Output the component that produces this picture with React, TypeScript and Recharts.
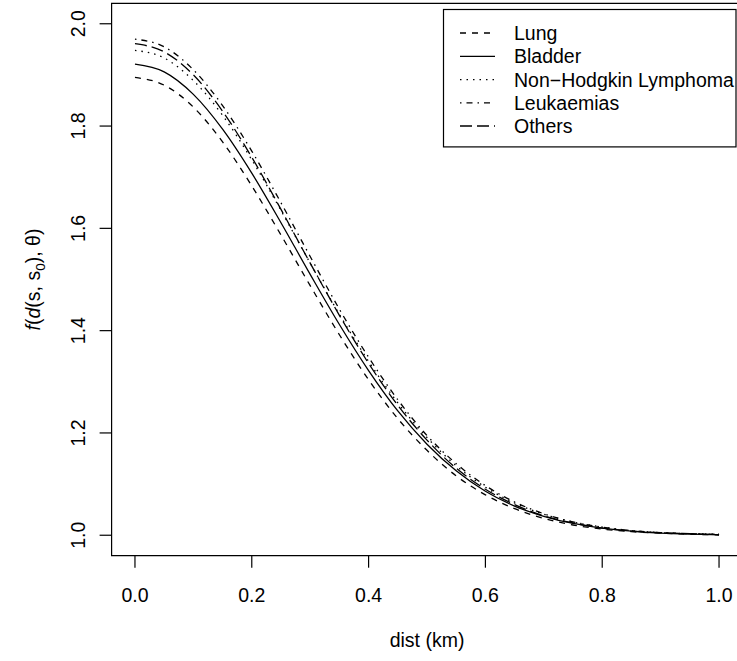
import React from 'react';
import { LineChart, Line, XAxis, YAxis, ReferenceArea, Legend } from 'recharts';

const dist = [0, 0.05, 0.1, 0.15, 0.2, 0.25, 0.3, 0.35, 0.4, 0.45, 0.5, 0.55, 0.6, 0.65, 0.7, 0.75, 0.8, 0.85, 0.9, 0.95, 1.0];
const lung = [1.895, 1.880, 1.837, 1.769, 1.683, 1.587, 1.488, 1.392, 1.304, 1.228, 1.166, 1.116, 1.079, 1.052, 1.033, 1.020, 1.012, 1.007, 1.004, 1.002, 1.001];
const bladder = [1.921, 1.906, 1.862, 1.794, 1.708, 1.611, 1.510, 1.412, 1.322, 1.243, 1.178, 1.126, 1.086, 1.057, 1.037, 1.023, 1.014, 1.008, 1.004, 1.002, 1.001];
const nhl = [1.948, 1.933, 1.889, 1.821, 1.734, 1.635, 1.532, 1.432, 1.340, 1.259, 1.191, 1.136, 1.094, 1.063, 1.041, 1.026, 1.016, 1.009, 1.005, 1.003, 1.002];
const leuk = [1.970, 1.955, 1.910, 1.840, 1.751, 1.650, 1.545, 1.442, 1.348, 1.265, 1.195, 1.140, 1.097, 1.065, 1.042, 1.026, 1.016, 1.009, 1.005, 1.003, 1.002];
const others = [1.961, 1.945, 1.900, 1.829, 1.739, 1.637, 1.532, 1.430, 1.336, 1.254, 1.186, 1.131, 1.090, 1.060, 1.038, 1.024, 1.014, 1.008, 1.005, 1.003, 1.001];

const xTicks = [0, 0.2, 0.4, 0.6, 0.8, 1.0];
const yTicks = [1.0, 1.2, 1.4, 1.6, 1.8, 2.0];

const seriesNames = ['Lung', 'Bladder', 'Non\u2212Hodgkin Lymphoma', 'Leukaemias', 'Others'];
const seriesKeys = ['lung', 'bladder', 'nhl', 'leuk', 'others'];
const seriesDash = ['6 6', '', '1.5 5', '1.5 5 6 5', '12 5'];

const data = dist.map((d, i) => ({
  d,
  lung: lung[i],
  bladder: bladder[i],
  nhl: nhl[i],
  leuk: leuk[i],
  others: others[i],
}));

const FONT = '"Liberation Sans", Arial, Helvetica, sans-serif';
const FS = 19.5;

const YTick = (props: any) => {
  const { y, payload } = props;
  const cx = 78;
  return (
    <text
      x={cx}
      y={y}
      dy={FS * 0.358}
      transform={`rotate(-90, ${cx}, ${y})`}
      textAnchor="middle"
      fontFamily={FONT}
      fontSize={FS}
      fill="#000"
    >
      {Number(payload.value).toFixed(1)}
    </text>
  );
};

const XTick = (props: any) => {
  const { x, payload } = props;
  return (
    <text x={x} y={595.3} dy={FS * 0.358} textAnchor="middle" fontFamily={FONT} fontSize={FS} fill="#000">
      {Number(payload.value).toFixed(1)}
    </text>
  );
};

const LegendBox = () => {
  const rowY = [33.3, 56.6, 79.9, 103.1, 126.3];
  return (
    <svg width={294} height={140} style={{ display: 'block', overflow: 'visible' }}>
      <rect x={0.5} y={0.5} width={292.5} height={137.4} fill="#fff" stroke="#000" strokeWidth={1.2} />
      {seriesNames.map((n, i) => (
        <g key={n}>
          <line
            x1={17}
            x2={52}
            y1={rowY[i] - 9.3}
            y2={rowY[i] - 9.3}
            stroke="#000"
            strokeWidth={1.3}
            strokeDasharray={seriesDash[i] || undefined}
          />
          <text x={71} y={rowY[i] - 9.3} dy={FS * 0.358} fontFamily={FONT} fontSize={FS} fill="#000">
            {n}
          </text>
        </g>
      ))}
    </svg>
  );
};

export default function App() {
  return (
    <div style={{ position: 'absolute', left: 0, top: 0, width: 737, height: 661, overflow: 'hidden', background: '#fff' }}>
      <LineChart width={750} height={661} data={data} margin={{ top: 3.3, left: 0, right: 7.6, bottom: 0 }}>
        <XAxis
          dataKey="d"
          type="number"
          domain={[-0.04, 1.04]}
          ticks={xTicks}
          allowDataOverflow
          height={105.3}
          axisLine={false}
          tickSize={12}
          tickLine={{ stroke: '#000', strokeWidth: 1.2 }}
          tick={<XTick />}
          interval={0}
          label={{
            content: () => (
              <text x={427} y={640} dy={FS * 0.358} textAnchor="middle" fontFamily={FONT} fontSize={FS} fill="#000">
                dist (km)
              </text>
            ),
          }}
        />
        <YAxis
          type="number"
          domain={[0.96, 2.04]}
          ticks={yTicks}
          allowDataOverflow
          width={111.6}
          axisLine={false}
          tickSize={12}
          tickLine={{ stroke: '#000', strokeWidth: 1.2 }}
          tick={<YTick />}
          interval={0}
          label={{
            content: () => (
              <text
                transform="translate(33, 279.5) rotate(-90)"
                x={0}
                y={0}
                dy={FS * 0.358}
                textAnchor="middle"
                fontFamily={FONT}
                fontSize={FS}
                fill="#000"
              >
                <tspan fontStyle="italic">f</tspan>
                <tspan>(</tspan>
                <tspan fontStyle="italic">d</tspan>
                <tspan>(s, s</tspan>
                <tspan fontSize={FS * 0.7} dy={FS * 0.25}>0</tspan>
                <tspan dy={-FS * 0.25}>), θ)</tspan>
              </text>
            ),
          }}
        />
        <ReferenceArea
          x1={-0.04}
          x2={1.04}
          y1={0.96}
          y2={2.04}
          fill="none"
          fillOpacity={0}
          stroke="#000"
          strokeWidth={1.2}
          ifOverflow="visible"
        />
        {seriesKeys.map((k, i) => (
          <Line
            key={k}
            dataKey={k}
            name={seriesNames[i]}
            type="monotone"
            stroke="#000"
            strokeWidth={1.3}
            strokeDasharray={seriesDash[i] || undefined}
            dot={false}
            activeDot={false}
            isAnimationActive={false}
          />
        ))}
        <Legend
          layout="vertical"
          align="center"
          verticalAlign="middle"
          wrapperStyle={{ position: 'absolute', left: 443, top: 9, width: 294, height: 140 }}
          content={<LegendBox />}
        />
      </LineChart>
    </div>
  );
}
